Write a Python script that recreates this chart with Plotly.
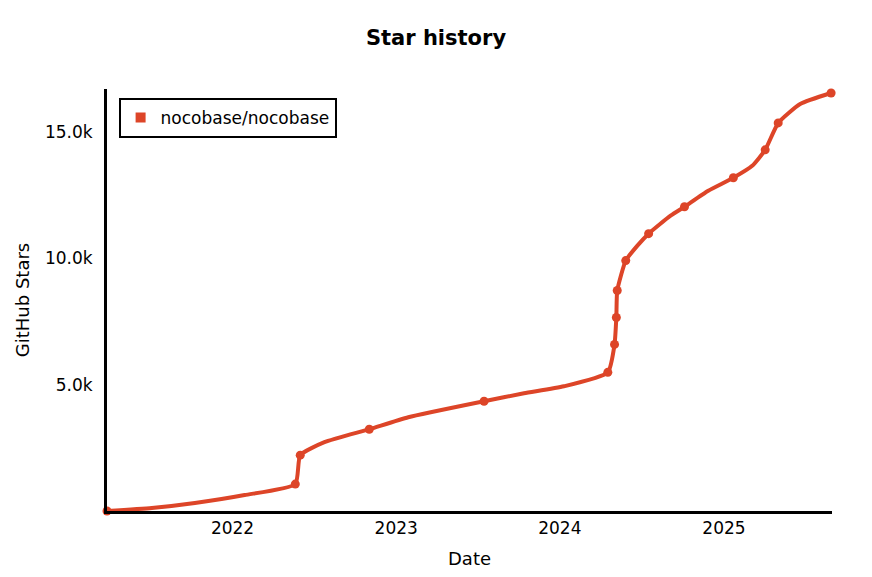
import plotly.graph_objects as go

# Star history of nocobase/nocobase
dates = [
    "2021-03-27", "2021-07-05", "2021-10-09", "2022-01-28", "2022-05-21",
    "2022-06-01", "2022-07-25", "2022-11-02", "2023-01-28", "2023-07-16",
    "2023-10-13", "2024-01-10", "2024-04-17", "2024-05-02", "2024-05-06",
    "2024-05-08", "2024-05-27", "2024-06-22", "2024-07-17", "2024-09-04",
    "2024-10-05", "2024-11-27", "2025-01-22", "2025-03-05", "2025-04-03",
    "2025-05-02", "2025-06-20", "2025-08-28",
]
stars = [
    0, 118, 316, 632, 1066,
    2211, 2724, 3237, 3711, 4343,
    4658, 4935, 5488, 6593, 7659,
    8725, 9909, 10501, 10975, 11686,
    12041, 12673, 13186, 13660, 14291,
    15357, 16107, 16542,
]
# which samples carry a dot
marked = [
    1, 0, 0, 0, 1,
    1, 0, 1, 0, 1,
    0, 0, 1, 1, 1,
    1, 1, 0, 1, 0,
    1, 0, 1, 0, 1,
    1, 0, 1,
]

series_name = "nocobase/nocobase"
x_tick_vals = ["2022-01-01", "2023-01-01", "2024-01-01", "2025-01-01"]
x_tick_text = ["2022", "2023", "2024", "2025"]
y_tick_vals = [5000, 10000, 15000]
y_tick_text = ["5.0k", "10.0k", "15.0k"]

RED = "#dd4528"
FONT = "'DejaVu Sans', sans-serif"

mk_dates = [d for d, m in zip(dates, marked) if m]
mk_stars = [s for s, m in zip(stars, marked) if m]

fig = go.Figure()
fig.add_trace(go.Scatter(
    x=dates, y=stars, mode="lines",
    line=dict(color=RED, width=4, shape="spline", smoothing=0.5),
    showlegend=False, hoverinfo="skip", cliponaxis=False,
))
fig.add_trace(go.Scatter(
    x=mk_dates, y=mk_stars, mode="markers",
    marker=dict(color=RED, size=9),
    showlegend=False, cliponaxis=False,
))
# legend entry (square swatch)
fig.add_trace(go.Scatter(
    x=[None], y=[None], mode="markers", name=series_name,
    marker=dict(color=RED, size=10, symbol="square"),
))

# the page body has a small margin, so the figure is drawn slightly offset
W, H = 856, 561
fig.update_layout(
    width=W, height=H,
    margin=dict(l=99, r=32, t=81, b=58),
    paper_bgcolor="white", plot_bgcolor="white",
    font=dict(family=FONT, size=16, color="black"),
    title=dict(text="Star history", x=0.5, xanchor="center",
               y=1 - 30 / H, yanchor="middle",
               font=dict(family=FONT, size=21, color="black", weight="bold")),
    legend=dict(x=0.016, y=0.979, xanchor="left", yanchor="top",
                bordercolor="black", borderwidth=2, bgcolor="white",
                font=dict(family=FONT, size=17, color="black"),
                itemwidth=30, tracegroupgap=0),
    xaxis=dict(
        type="date", range=["2021-03-27", "2025-08-30"],
        automargin=False,
        showgrid=False, zeroline=False,
        showline=True, linecolor="black", linewidth=3,
        tickvals=x_tick_vals, ticktext=x_tick_text, ticks="",
        tickfont=dict(size=17),
        title=dict(text="Date", font=dict(size=18), standoff=22),
    ),
    yaxis=dict(
        range=[0, 16700],
        automargin=False,
        showgrid=False, zeroline=False,
        showline=True, linecolor="black", linewidth=3,
        tickvals=y_tick_vals, ticktext=y_tick_text, ticks="",
        ticklabelstandoff=8,
        tickfont=dict(size=17),
        title=dict(text="GitHub Stars", font=dict(size=18), standoff=11),
    ),
)

fig.write_html("out.html")
